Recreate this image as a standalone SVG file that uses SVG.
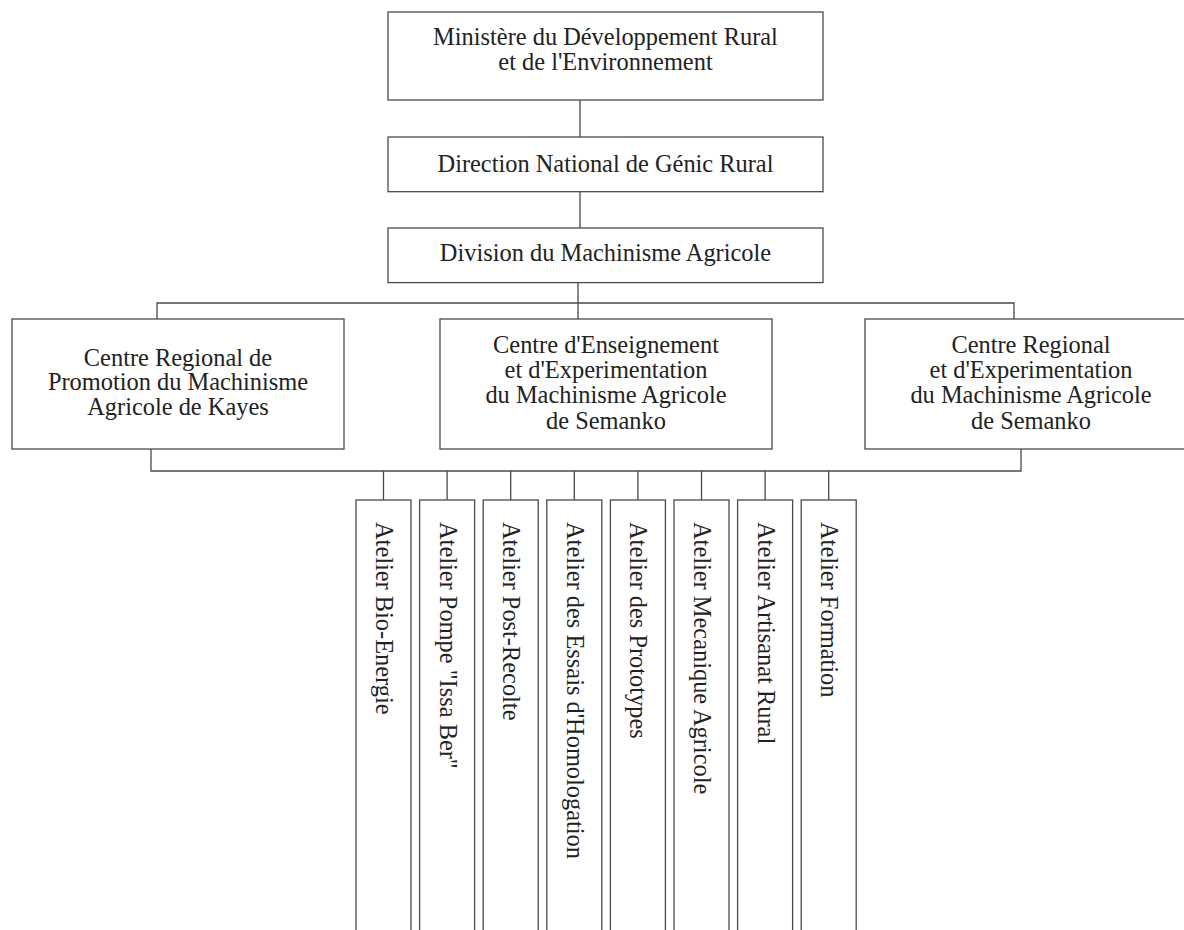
<svg xmlns="http://www.w3.org/2000/svg" width="1184" height="930" viewBox="0 0 1184 930">
<style>
.box{fill:#fff;stroke:#4a4a4a;stroke-width:1.3}
.ln{fill:none;stroke:#4a4a4a;stroke-width:1.3}
.t{font-family:"Liberation Serif","Times New Roman",serif;font-size:24.4px;fill:#222;text-anchor:middle}
.v{font-family:"Liberation Serif","Times New Roman",serif;font-size:24.4px;fill:#222;text-anchor:start}
</style>
<rect width="1184" height="930" fill="#fff"/>
<g id="connectors">
<path class="ln" d="M580 100V137M580 191.7V228M578 282.6V319M157 319V303H1014V319M151 449V471H1021V449"/>
<path class="ln" d="M383.5 471V500M447.1 471V500M510.7 471V500M574.3 471V500M637.9 471V500M701.5 471V500M765.1 471V500M828.7 471V500"/>
</g>
<g id="ministere">
<rect class="box" x="388" y="12" width="435" height="88"/>
<text class="t" x="605.5" y="45">Ministère du Développement Rural</text>
<text class="t" x="605.5" y="70">et de l'Environnement</text>
</g>
<g id="direction">
<rect class="box" x="388" y="137" width="435" height="54.7"/>
<text class="t" x="605.5" y="172">Direction National de Génic Rural</text>
</g>
<g id="division">
<rect class="box" x="388" y="228" width="435" height="54.6"/>
<text class="t" x="605.5" y="261">Division du Machinisme Agricole</text>
</g>
<g id="centre-kayes">
<rect class="box" x="12" y="319" width="332" height="130"/>
<text class="t" x="178" y="365.5">Centre Regional de</text>
<text class="t" x="178" y="390">Promotion du Machinisme</text>
<text class="t" x="178" y="414.5">Agricole de Kayes</text>
</g>
<g id="centre-enseignement">
<rect class="box" x="440" y="319" width="332" height="130"/>
<text class="t" x="606" y="353">Centre d'Enseignement</text>
<text class="t" x="606" y="378">et d'Experimentation</text>
<text class="t" x="606" y="403">du Machinisme Agricole</text>
<text class="t" x="606" y="429">de Semanko</text>
</g>
<g id="centre-regional">
<rect class="box" x="865" y="319" width="332" height="130"/>
<text class="t" x="1031" y="353">Centre Regional</text>
<text class="t" x="1031" y="378">et d'Experimentation</text>
<text class="t" x="1031" y="403">du Machinisme Agricole</text>
<text class="t" x="1031" y="429">de Semanko</text>
</g>
<g id="atelier-bio-energie">
<rect class="box" x="356" y="500" width="55" height="440"/>
<text class="v" transform="translate(376 522) rotate(90)">Atelier Bio-Energie</text>
</g>
<g id="atelier-pompe">
<rect class="box" x="419.6" y="500" width="55" height="440"/>
<text class="v" transform="translate(439.6 522) rotate(90)">Atelier Pompe "Issa Ber"</text>
</g>
<g id="atelier-post-recolte">
<rect class="box" x="483.2" y="500" width="55" height="440"/>
<text class="v" transform="translate(503.2 522) rotate(90)">Atelier Post-Recolte</text>
</g>
<g id="atelier-essais">
<rect class="box" x="546.8" y="500" width="55" height="440"/>
<text class="v" transform="translate(566.8 522) rotate(90)">Atelier des Essais d'Homologation</text>
</g>
<g id="atelier-prototypes">
<rect class="box" x="610.4" y="500" width="55" height="440"/>
<text class="v" transform="translate(630.4 522) rotate(90)">Atelier des Prototypes</text>
</g>
<g id="atelier-mecanique">
<rect class="box" x="674" y="500" width="55" height="440"/>
<text class="v" transform="translate(694 522) rotate(90)">Atelier Mecanique Agricole</text>
</g>
<g id="atelier-artisanat">
<rect class="box" x="737.6" y="500" width="55" height="440"/>
<text class="v" transform="translate(757.6 522) rotate(90)">Atelier Artisanat Rural</text>
</g>
<g id="atelier-formation">
<rect class="box" x="801.2" y="500" width="55" height="440"/>
<text class="v" transform="translate(821.2 522) rotate(90)">Atelier Formation</text>
</g>
</svg>
